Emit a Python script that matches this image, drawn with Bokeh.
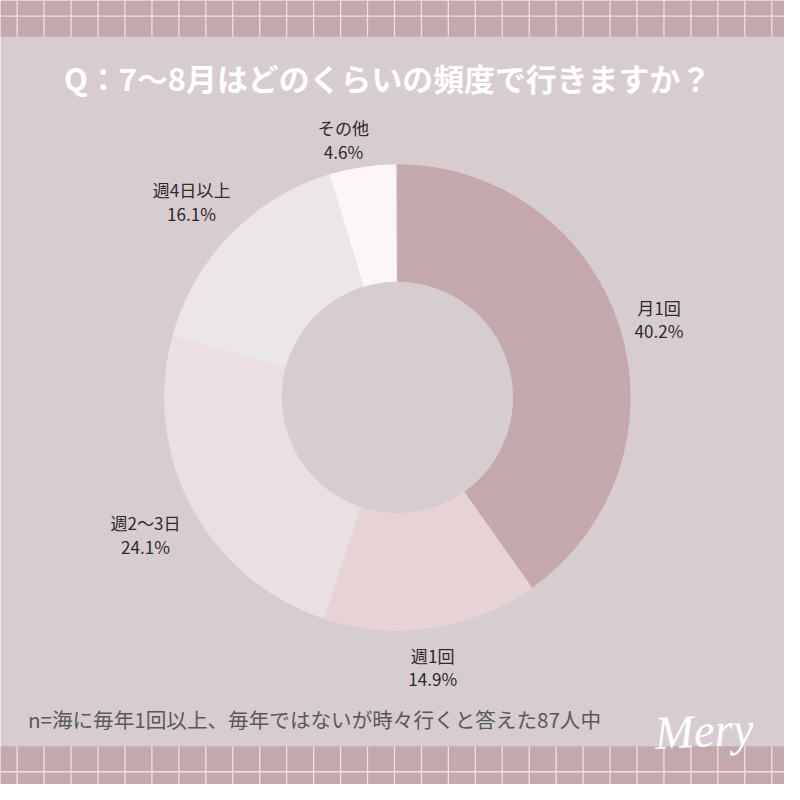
import numpy as np
from bokeh.plotting import figure
from bokeh.models import Range1d
from bokeh.core.properties import value
from bokeh.embed import file_html
from bokeh.resources import INLINE

# ---- data ----
categories = ["月1回", "週1回", "週2〜3日", "週4日以上", "その他"]
percents = [40.2, 14.9, 24.1, 16.1, 4.6]
colors = ["#c4a8ac", "#e7d2d6", "#ecdfe2", "#ebe6e9", "#fdf6f6"]
title_text = "Q：7〜8月はどのくらいの頻度で行きますか？"
note_text = "n=海に毎年1回以上、毎年ではないが時々行くと答えた87人中"
logo_text = "Mery"

# label anchor positions (pixel layout, y down)
label_x = [672, 441, 148, 195, 350]
label_y = [325, 680, 545, 205, 142]

W = 784
FONT = value("Noto Sans CJK JP")

p = figure(width=W, height=W, output_backend="svg", toolbar_location=None,
           x_range=Range1d(0, 800), y_range=Range1d(0, 800),
           min_border=0, background_fill_color="#d7cdd1",
           border_fill_color="#d7cdd1", outline_line_color=None)
p.axis.visible = False
p.grid.visible = False

s = W / 800.0

# top and bottom grid bands
band_col = "#c4a8ac"
line_col = "#f2dfe2"
p.quad(left=[0, 0], right=[800, 800], bottom=[763, 0], top=[800, 39],
       fill_color=band_col, line_color=None)
xs = np.arange(17, 800, 27.5)
p.segment(x0=xs, y0=763, x1=xs, y1=800, line_color=line_col, line_width=1.3)
p.segment(x0=xs, y0=0, x1=xs, y1=39, line_color=line_col, line_width=1.3)
p.segment(x0=[0, 0], y0=[784, 13], x1=[800, 800], y1=[784, 13],
          line_color=line_col, line_width=1.3)

# donut
cx, cy = 405, 800 - 405
frac = np.array(percents) / 100.0
cum = np.concatenate([[0], np.cumsum(frac)])
start = np.pi / 2 - 2 * np.pi * cum[:-1]
end = np.pi / 2 - 2 * np.pi * cum[1:]
p.annular_wedge(x=cx, y=cy, inner_radius=118, outer_radius=238,
                start_angle=start, end_angle=end, direction="clock",
                fill_color=colors, line_color=None)

# labels
ly = [800 - v for v in label_y]
p.text(x=label_x, y=[v + 12 for v in ly], text=categories,
       text_font=FONT, text_font_size=f"{17.5*s:.1f}px", text_color="#2b2b2b",
       text_align="center", text_baseline="middle")
p.text(x=label_x, y=[v - 12 for v in ly], text=[f"{v:.1f}%" for v in percents],
       text_font=FONT, text_font_size=f"{17.5*s:.1f}px", text_color="#2b2b2b",
       text_align="center", text_baseline="middle")

# title
p.text(x=[395], y=[800 - 79], text=[title_text], text_font=FONT,
       text_font_size=f"{31.5*s:.1f}px", text_font_style="bold",
       text_color="#ffffff", text_align="center", text_baseline="middle")

# note
p.text(x=[28], y=[800 - 733], text=[note_text], text_font=FONT,
       text_font_size=f"{21*s:.1f}px", text_color="#595959",
       text_align="left", text_baseline="middle")

# logo
p.text(x=[718], y=[800 - 745], text=[logo_text], text_font=value("Liberation Serif"),
       text_font_size=f"{48*s:.1f}px", text_font_style="italic",
       text_color="#ffffff", text_align="center", text_baseline="middle",
       angle=0.05)

open("out.html", "w").write(file_html(p, INLINE))
